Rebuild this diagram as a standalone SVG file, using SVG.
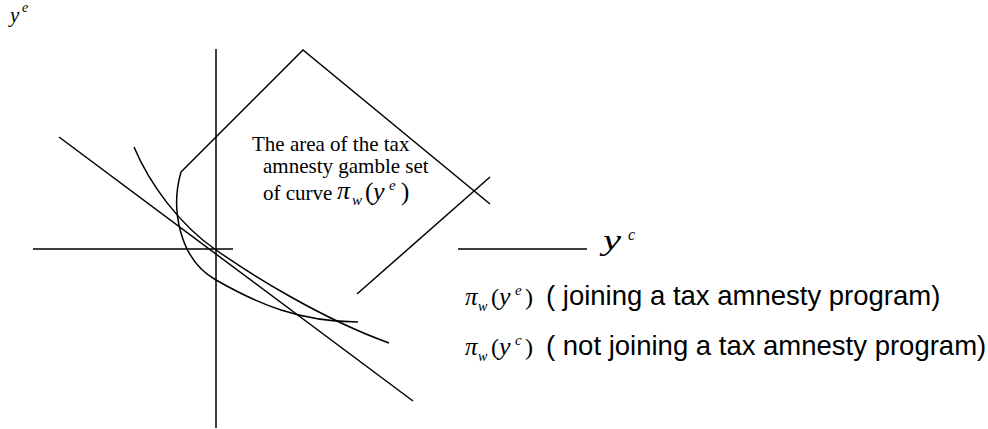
<svg xmlns="http://www.w3.org/2000/svg" width="988" height="429" viewBox="0 0 988 429">
<style>
.ln{fill:none;stroke:#000;stroke-width:1.5}
.tr{font-family:"Liberation Serif","Times New Roman",serif;fill:#000}
.ti{font-family:"Liberation Serif","Times New Roman",serif;font-style:italic;fill:#000}
.ar{font-family:"Liberation Sans",Arial,sans-serif;fill:#000}
</style>
<rect width="988" height="429" fill="#fff"/>
<g id="axes">
<line class="ln" x1="216" y1="49" x2="216" y2="428"/>
<line class="ln" x1="33" y1="249" x2="233" y2="249"/>
<line class="ln" x1="458" y1="249" x2="587" y2="249"/>
</g>
<g id="connectors">
<polyline class="ln" points="181,172 303,50 490,204"/>
<line class="ln" x1="490" y1="177" x2="357" y2="294"/>
<line class="ln" x1="59" y1="137" x2="413" y2="401"/>
<path class="ln" d="M134,147 C150,185 180,225 216,250 S320,318 389,343"/>
<path class="ln" d="M181,172 C170,210 180,260 216,280 C258,304 300,322 358,322"/>
</g>
<g id="label-ye">
<text class="ti" x="10" y="22" font-size="21">y</text>
<text class="ti" x="22" y="12" font-size="14">e</text>
</g>
<g id="label-yc">
<text class="ti" x="603" y="250" font-size="29" transform="translate(603 0) scale(1.4 1) translate(-603 0)">y</text>
<text class="ti" x="628" y="240" font-size="16">c</text>
</g>
<g id="area-text">
<text class="tr" x="252" y="151" font-size="21">The area of the tax</text>
<text class="tr" x="263" y="173" font-size="21">amnesty gamble set</text>
<text class="tr" x="263" y="200" font-size="21">of curve</text>
<text class="ti" x="337" y="199" font-size="26">π</text>
<text class="ti" x="352" y="205" font-size="15">w</text>
<text class="tr" x="365" y="200" font-size="25">(</text>
<text class="ti" x="373" y="200" font-size="26">y</text>
<text class="ti" x="389" y="190" font-size="15">e</text>
<text class="tr" x="401" y="200" font-size="25">)</text>
</g>
<g id="legend-e">
<text class="ti" x="465" y="305" font-size="25">π</text>
<text class="ti" x="478" y="311" font-size="14">w</text>
<text class="tr" x="491" y="305" font-size="24">(</text>
<text class="ti" x="499" y="305" font-size="26">y</text>
<text class="ti" x="515" y="295" font-size="15">e</text>
<text class="tr" x="525" y="305" font-size="24">)</text>
<text class="ar" x="546" y="305" font-size="27.5">( joining a tax amnesty program)</text>
</g>
<g id="legend-c">
<text class="ti" x="465" y="355" font-size="25">π</text>
<text class="ti" x="478" y="361" font-size="14">w</text>
<text class="tr" x="491" y="355" font-size="24">(</text>
<text class="ti" x="499" y="355" font-size="26">y</text>
<text class="ti" x="515" y="345" font-size="15">c</text>
<text class="tr" x="525" y="355" font-size="24">)</text>
<text class="ar" x="546" y="355" font-size="27.5">( not joining a tax amnesty program)</text>
</g>
</svg>
